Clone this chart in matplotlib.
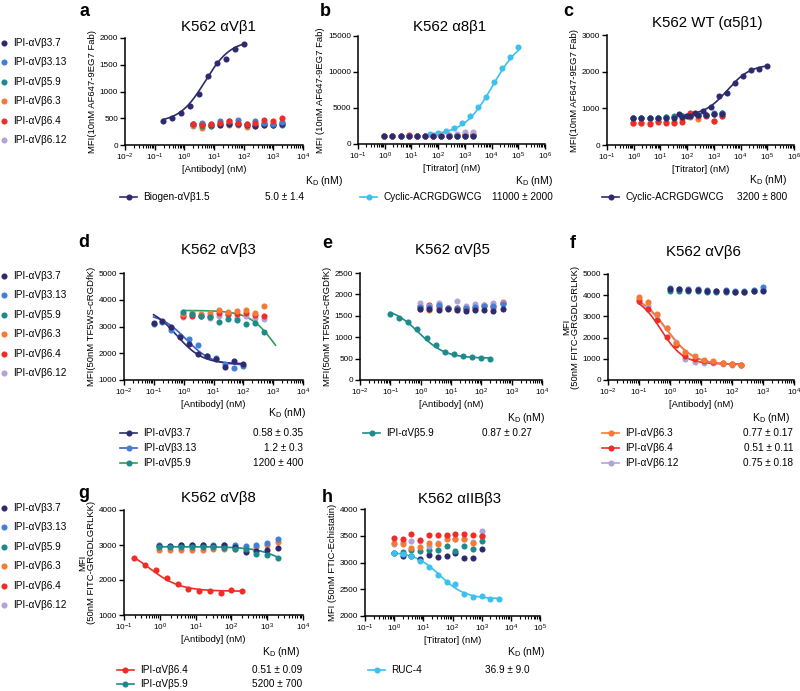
import numpy as np
import matplotlib
matplotlib.use('Agg')
import matplotlib.pyplot as plt
from matplotlib.lines import Line2D
from matplotlib.ticker import LogLocator, NullFormatter, FixedLocator

plt.rcParams['font.family'] = ['Liberation Sans', 'DejaVu Sans']
plt.rcParams['mathtext.fontset'] = 'custom'
plt.rcParams['mathtext.rm'] = 'Liberation Sans'
plt.rcParams['mathtext.it'] = 'Liberation Sans:italic'
plt.rcParams['mathtext.default'] = 'regular'

W, H = 800, 691

# ---------------- series names / colours ----------------
NAMES = ['IPI-αVβ3.7', 'IPI-αVβ3.13', 'IPI-αVβ5.9', 'IPI-αVβ6.3', 'IPI-αVβ6.4', 'IPI-αVβ6.12']
C_NAVY, C_BLUE, C_TEAL, C_ORANGE, C_RED, C_LAV = '#2d2b6e', '#4280d6', '#1d8b8b', '#f47a35', '#ee2d26', '#b3a4d8'
C_CYAN = '#3cc0ee'
C_GREEN = '#2f9e5e'
COLORS = [C_NAVY, C_BLUE, C_TEAL, C_ORANGE, C_RED, C_LAV]

# ---------------- panel a : K562 aVb1 ----------------
A_X_FIT = [0.195, 0.39, 0.78, 1.56, 3.125, 6.25, 12.5, 25, 50, 100]
A_BIOGEN = [455, 505, 590, 735, 945, 1290, 1540, 1610, 1795, 1880]
A_FIT = [420, 1960, 5.0, 1.0]          # start, end, mid, hill
A_X_CTRL = [1.95, 3.9, 7.8, 15.6, 31.25, 62.5, 125, 250, 500, 1000, 2000]
A_CTRL = [  # order of NAMES
    [385, 390, 380, 375, 390, 385, 375, 350, 380, 375, 390],
    [400, 420, 400, 450, 440, 460, 395, 440, 420, 400, 430],
    [370, 360, 360, 385, 400, 390, 370, 380, 400, 370, 380],
    [355, 310, 355, 370, 380, 375, 340, 350, 380, 370, 390],
    [400, 380, 390, 410, 450, 420, 400, 420, 470, 450, 500],
    [380, 390, 380, 400, 410, 400, 380, 400, 410, 400, 420],
]

# ---------------- panel b : K562 a8b1 ----------------
B_X_FIT = [48.8, 97.7, 195, 391, 781, 1562, 3125, 6250, 12500, 25000, 50000, 100000]
B_CYCLIC = [1350, 1570, 1850, 2270, 2880, 3890, 5180, 6570, 8650, 10600, 12100, 13500]
B_FIT = [1200, 15000, 11000, 0.8]
B_X_CTRL = [0.98, 1.95, 3.9, 7.8, 15.6, 31.25, 62.5, 125, 250, 500, 1000, 2000]
B_CTRL = [
    [1150, 1140, 1150, 1160, 1140, 1150, 1150, 1140, 1160, 1150, 1150, 1140],
    [1160, 1150, 1160, 1150, 1160, 1150, 1160, 1150, 1170, 1160, 1180, 1200],
    [1140, 1150, 1140, 1150, 1140, 1150, 1140, 1150, 1150, 1150, 1160, 1170],
    [1150, 1160, 1150, 1160, 1150, 1160, 1170, 1200, 1250, 1300, 1350, 1400],
    [1160, 1150, 1160, 1250, 1160, 1150, 1160, 1170, 1180, 1200, 1220, 1250],
    [1150, 1150, 1160, 1150, 1160, 1170, 1200, 1250, 1300, 1420, 1600, 1700],
]

# ---------------- panel c : K562 WT (a5b1) ----------------
C_X_FIT = [48.8, 97.7, 195, 391, 781, 1562, 3125, 6250, 12500, 25000, 50000, 100000]
C_CYCLIC = [840, 790, 860, 930, 1045, 1350, 1410, 1680, 1880, 2040, 2060, 2160]
C_FIT = [790, 2200, 3200, 1.0]
C_X_CTRL = [0.98, 1.95, 3.9, 7.8, 15.6, 31.25, 62.5, 125, 250, 500, 1000, 2000]
C_CTRL = [
    [730, 735, 735, 745, 750, 730, 770, 780, 830, 830, 850, 850],
    [740, 745, 740, 750, 760, 760, 790, 800, 820, 830, 860, 880],
    [735, 740, 740, 740, 760, 790, 780, 790, 820, 830, 840, 860],
    [610, 600, 590, 660, 640, 620, 700, 760, 720, 830, 650, 780],
    [600, 590, 580, 620, 610, 610, 640, 860, 780, 800, 660, 790],
    [730, 740, 735, 745, 750, 760, 780, 790, 810, 820, 840, 860],
]

# ---------------- panel d : K562 aVb3 ----------------
D_X_FIT = [0.098, 0.195, 0.39, 0.78, 1.56, 3.125, 6.25, 12.5, 25, 50, 100]
D_37 = [3120, 3200, 3000, 2620, 2340, 1960, 1880, 1780, 1500, 1720, 1600]
D_313 = [3100, 3150, 2870, 2650, 2540, 2300, 1900, 1830, 1600, 1460, 1530]
D_FIT_37 = [3750, 1600, 0.58, 1.0]
D_FIT_313 = [3500, 1550, 1.2, 1.0]
D_X_CTRL = [0.98, 1.95, 3.9, 7.8, 15.6, 31.25, 62.5, 125, 250, 500]
D_59 = [3560, 3460, 3400, 3340, 3160, 3270, 3250, 3080, 3120, 2810]
D_FIT_59 = [3600, 1000, 1200, 1.0]
D_63 = [3450, 3500, 3480, 3500, 3600, 3560, 3580, 3600, 3520, 3750]
D_64 = [3380, 3400, 3400, 3380, 3500, 3450, 3470, 3500, 3420, 3410]
D_612 = [3350, 3420, 3380, 3300, 3380, 3420, 3310, 3380, 3300, 3280]

# ---------------- panel e : K562 aVb5 ----------------
E_X_FIT = [0.098, 0.195, 0.39, 0.78, 1.56, 3.125, 6.25, 12.5, 25, 50, 100, 200]
E_59 = [1540, 1450, 1360, 1200, 990, 820, 660, 600, 550, 540, 520, 500]
E_FIT_59 = [1700, 510, 0.87, 1.0]
E_X_CTRL = [0.98, 1.95, 3.9, 7.8, 15.6, 31.25, 62.5, 125, 250, 500]
E_37 = [1660, 1650, 1630, 1650, 1640, 1610, 1630, 1630, 1620, 1650]
E_313 = [1700, 1700, 1760, 1680, 1690, 1680, 1700, 1720, 1730, 1780]
E_63 = [1650, 1640, 1680, 1690, 1660, 1660, 1670, 1720, 1680, 1820]
E_64 = [1740, 1750, 1720, 1680, 1690, 1680, 1700, 1750, 1740, 1800]
E_612 = [1790, 1730, 1800, 1690, 1840, 1720, 1780, 1760, 1810, 1800]

# ---------------- panel f : K562 aVb6 ----------------
F_X_FIT = [0.098, 0.195, 0.39, 0.78, 1.56, 3.125, 6.25, 12.5, 25, 50, 100, 200]
F_63 = [3920, 3680, 3120, 2450, 1740, 1320, 1150, 950, 900, 800, 750, 700]
F_64 = [3720, 3330, 2820, 2050, 1650, 1150, 1000, 880, 850, 780, 760, 720]
F_612 = [3800, 3500, 3050, 2450, 1800, 980, 850, 800, 780, 740, 730, 720]
F_FIT_63 = [4100, 720, 0.77, 1.0]
F_FIT_64 = [4000, 750, 0.51, 1.2]
F_FIT_612 = [4050, 730, 0.75, 1.0]
F_X_CTRL = [0.98, 1.95, 3.9, 7.8, 15.6, 31.25, 62.5, 125, 250, 500, 1000]
F_37 = [4300, 4290, 4250, 4260, 4200, 4190, 4200, 4150, 4160, 4220, 4200]
F_313 = [4320, 4300, 4280, 4300, 4240, 4220, 4250, 4180, 4200, 4250, 4400]
F_59 = [4200, 4220, 4180, 4180, 4160, 4150, 4150, 4130, 4150, 4200, 4250]

# ---------------- panel g : K562 aVb8 ----------------
G_X_FIT = [0.195, 0.39, 0.78, 1.56, 3.125, 6.25, 12.5, 25, 50, 100, 200]
G_64 = [2620, 2440, 2300, 2060, 1880, 1750, 1690, 1690, 1620, 1710, 1700]
G_FIT_64 = [3000, 1680, 0.51, 1.0]
G_X_CTRL = [0.98, 1.95, 3.9, 7.8, 15.6, 31.25, 62.5, 125, 250, 500, 1000, 2000]
G_59 = [2950, 2950, 2930, 2940, 2930, 2930, 2920, 2900, 2880, 2730, 2710, 2630]
G_FIT_59 = [2950, 1850, 5200, 1.0]
G_37 = [2980, 2960, 3000, 3000, 3000, 2980, 3000, 2950, 2800, 2830, 2860, 2920]
G_313 = [2990, 2980, 3010, 3010, 3010, 3000, 3010, 3010, 2970, 3010, 3050, 3160]
G_63 = [2870, 2850, 2860, 2850, 2860, 2880, 2900, 2880, 2900, 2950, 3000, 3100]

# ---------------- panel h : K562 aIIBb3 ----------------
H_X_FIT = [0.98, 1.95, 3.9, 7.8, 15.6, 31.25, 62.5, 125, 250, 500, 1000, 2000, 4000]
H_RUC = [3170, 3160, 3120, 3020, 2910, 2760, 2640, 2600, 2410, 2360, 2380, 2310, 2320]
H_FIT = [3200, 2320, 36.9, 1.0]
H_X_CTRL = [0.98, 1.95, 3.9, 7.8, 15.6, 31.25, 62.5, 125, 250, 500, 1000]
H_37 = [3170, 3130, 3120, 3060, 3140, 3100, 3130, 3170, 3080, 3090, 3260]
H_59 = [3170, 3190, 3240, 3210, 3230, 3240, 3300, 3220, 3310, 3260, 3400]
H_63 = [3360, 3350, 3270, 3290, 3370, 3340, 3430, 3430, 3430, 3360, 3500]
H_64 = [3460, 3430, 3530, 3420, 3520, 3510, 3520, 3530, 3540, 3520, 3500]
H_612 = [3340, 3390, 3400, 3400, 3300, 3360, 3500, 3430, 3440, 3380, 3590]

# ---------------- helpers ----------------
MS = 4.4
TICK_FS = 5.9
LAB_FS = 6.8
LW = 1.2


def fx(px):
    return px / W


def fy(py):
    return 1 - py / H


def make_ax(fig, l, t, r, b):
    return fig.add_axes([fx(l), fy(b), (r - l) / W, (b - t) / H])


def logistic(x, p):
    start, end, mid, hill = p
    return end + (start - end) / (1 + (x / mid) ** hill)


def fit_line(ax, x0, x1, p, color, lw=LW):
    xs = np.logspace(np.log10(x0), np.log10(x1), 200)
    ax.plot(xs, logistic(xs, p), color=color, lw=lw, zorder=3)


def pts(ax, x, y, color, z=4):
    ax.plot(x, y, 'o', color=color, ms=MS, mec='none', zorder=z, clip_on=False)


def style(ax, xlim, ylim, yticks, xlabel, ylabel):
    ax.set_xscale('log')
    ax.set_xlim(*xlim)
    ax.set_ylim(*ylim)
    ax.xaxis.set_major_locator(LogLocator(base=10, numticks=30))
    ax.xaxis.set_minor_locator(LogLocator(base=10, subs=np.arange(2, 10) * 1.0, numticks=30))
    ax.xaxis.set_minor_formatter(NullFormatter())
    ax.yaxis.set_major_locator(FixedLocator(yticks))
    ax.set_yticklabels([str(v) for v in yticks])
    for s in ['top', 'right']:
        ax.spines[s].set_visible(False)
    for s in ['left', 'bottom']:
        ax.spines[s].set_linewidth(1.1)
    ax.tick_params(axis='both', which='major', length=3.5, width=1.0, labelsize=TICK_FS, pad=1.5)
    ax.tick_params(axis='x', which='minor', length=2, width=0.8)
    ax.set_xlabel(xlabel, fontsize=LAB_FS, labelpad=1.5)
    ax.set_ylabel(ylabel, fontsize=LAB_FS, labelpad=2, linespacing=1.0)


fig = plt.figure(figsize=(8, 6.91), dpi=100)


def text(px, py, s, **kw):
    fig.text(fx(px), fy(py), s, **kw)


def leg_row(x0, y, color, label, value, xv, lcolor=None):
    lc = lcolor or color
    fig.add_artist(Line2D([fx(x0), fx(x0 + 17)], [fy(y), fy(y)], color=lc, lw=LW,
                          transform=fig.transFigure))
    fig.add_artist(Line2D([fx(x0 + 8.5)], [fy(y)], marker='o', color=color, ms=MS, mec='none',
                          transform=fig.transFigure))
    text(x0 + 23, y, label, fontsize=7.2, va='center', ha='left')
    text(xv, y, value, fontsize=7.2, va='center', ha='right')


def kd_header(xr, y):
    text(xr, y, 'K$_D$ (nM)', fontsize=7.5, va='center', ha='right')


def side_legend(y0):
    for i, (n, c) in enumerate(zip(NAMES, COLORS)):
        y = y0 + i * 19.4
        fig.add_artist(Line2D([fx(4)], [fy(y)], marker='o', color=c, ms=MS, mec='none',
                              transform=fig.transFigure))
        text(13, y, n, fontsize=7.2, va='center', ha='left')


TITLE_FS = 10.8
LET_FS = 13

# ---------------- panel a ----------------
ax = make_ax(fig, 125, 38, 303, 145)
for i in [3, 2, 5, 0, 1, 4]:
    pts(ax, A_X_CTRL, A_CTRL[i], COLORS[i])
fit_line(ax, A_X_FIT[0], A_X_FIT[-1], A_FIT, C_NAVY)
pts(ax, A_X_FIT, A_BIOGEN, C_NAVY, z=5)
style(ax, (1e-2, 1e4), (0, 2000), [0, 500, 1000, 1500, 2000], '[Antibody] (nM)', 'MFI(10nM AF647-9EG7 Fab)')
text(218, 27, 'K562 αVβ1', fontsize=TITLE_FS, ha='center', va='center')
text(84, 12, 'a', fontsize=LET_FS, fontweight='bold', ha='center', va='center')
kd_header(343, 181)
leg_row(120, 197, C_NAVY, 'Biogen-αVβ1.5', '5.0 ± 1.4', 304)

# ---------------- panel b ----------------
ax = make_ax(fig, 358, 36, 545, 144)
fit_line(ax, B_X_FIT[0], B_X_FIT[-1], B_FIT, C_CYAN)
pts(ax, B_X_FIT, B_CYCLIC, C_CYAN)
for i in [1, 2, 3, 4, 5, 0]:
    pts(ax, B_X_CTRL, B_CTRL[i], COLORS[i])
style(ax, (1e-1, 1e6), (0, 15000), [0, 5000, 10000, 15000], '[Titrator] (nM)', 'MFI (10nM AF647-9EG7 Fab)')
text(450, 27, 'K562 α8β1', fontsize=TITLE_FS, ha='center', va='center')
text(325, 12, 'b', fontsize=LET_FS, fontweight='bold', ha='center', va='center')
kd_header(553, 181)
leg_row(360, 197, C_CYAN, 'Cyclic-ACRGDGWCG', '11000 ± 2000', 553)

# ---------------- panel c ----------------
ax = make_ax(fig, 607, 35, 794, 145)
for i in [5, 1, 2, 3, 4, 0]:
    pts(ax, C_X_CTRL, C_CTRL[i], COLORS[i])
fit_line(ax, C_X_FIT[0], C_X_FIT[-1], C_FIT, C_NAVY)
pts(ax, C_X_FIT, C_CYCLIC, C_NAVY, z=5)
style(ax, (1e-1, 1e6), (0, 3000), [0, 1000, 2000, 3000], '[Titrator] (nM)', 'MFI(10nM AF647-9EG7 Fab)')
text(707, 23, 'K562 WT (α5β1)', fontsize=TITLE_FS, ha='center', va='center')
text(568, 11, 'c', fontsize=LET_FS, fontweight='bold', ha='center', va='center')
kd_header(787, 180)
leg_row(602, 197, C_NAVY, 'Cyclic-ACRGDGWCG', '3200 ± 800', 787)

# ---------------- panel d ----------------
ax = make_ax(fig, 124, 273, 303, 380)
pts(ax, D_X_CTRL, D_612, C_LAV)
pts(ax, D_X_CTRL, D_64, C_RED)
pts(ax, D_X_CTRL, D_63, C_ORANGE)
fit_line(ax, D_X_CTRL[0], 1200, D_FIT_59, C_GREEN)
pts(ax, D_X_CTRL, D_59, C_TEAL, z=5)
fit_line(ax, D_X_FIT[0], D_X_FIT[-1], D_FIT_313, '#3f5cc4')
fit_line(ax, D_X_FIT[0], D_X_FIT[-1], D_FIT_37, C_NAVY)
pts(ax, D_X_FIT, D_313, C_BLUE, z=5)
pts(ax, D_X_FIT, D_37, C_NAVY, z=5)
style(ax, (1e-2, 1e4), (1000, 5000), [1000, 2000, 3000, 4000, 5000], '[Antibody] (nM)', 'MFI(50nM TF5WS-cRGDfK)')
text(218, 250, 'K562 αVβ3', fontsize=TITLE_FS, ha='center', va='center')
text(84, 242, 'd', fontsize=LET_FS, fontweight='bold', ha='center', va='center')
kd_header(306, 413)
leg_row(120, 433, C_NAVY, 'IPI-αVβ3.7', '0.58 ± 0.35', 303)
leg_row(120, 448, C_BLUE, 'IPI-αVβ3.13', '1.2 ± 0.3', 303, '#3f5cc4')
leg_row(120, 463, C_TEAL, 'IPI-αVβ5.9', '1200 ± 400', 303, C_GREEN)

# ---------------- panel e ----------------
ax = make_ax(fig, 360, 273, 542, 380)
for y, c in [(E_63, C_ORANGE), (E_64, C_RED), (E_612, C_LAV), (E_313, C_BLUE), (E_37, C_NAVY)]:
    pts(ax, E_X_CTRL, y, c)
fit_line(ax, E_X_FIT[0], E_X_FIT[-1], E_FIT_59, C_TEAL)
pts(ax, E_X_FIT, E_59, C_TEAL, z=5)
style(ax, (1e-2, 1e4), (0, 2500), [0, 500, 1000, 1500, 2000, 2500], '[Antibody] (nM)', 'MFI(50nM TF5WS-cRGDfK)')
text(452, 250, 'K562 αVβ5', fontsize=TITLE_FS, ha='center', va='center')
text(327, 243, 'e', fontsize=LET_FS, fontweight='bold', ha='center', va='center')
kd_header(545, 418)
leg_row(363, 433, C_TEAL, 'IPI-αVβ5.9', '0.87 ± 0.27', 532)

# ---------------- panel f ----------------
ax = make_ax(fig, 608, 274, 794, 380)
pts(ax, F_X_CTRL, F_59, C_TEAL)
pts(ax, F_X_CTRL, F_313, C_BLUE)
pts(ax, F_X_CTRL, F_37, C_NAVY)
fit_line(ax, F_X_FIT[0], F_X_FIT[-1], F_FIT_612, C_LAV)
fit_line(ax, F_X_FIT[0], F_X_FIT[-1], F_FIT_64, C_RED)
fit_line(ax, F_X_FIT[0], F_X_FIT[-1], F_FIT_63, C_ORANGE)
pts(ax, F_X_FIT, F_612, C_LAV, z=5)
pts(ax, F_X_FIT, F_64, C_RED, z=5)
pts(ax, F_X_FIT, F_63, C_ORANGE, z=5)
style(ax, (1e-2, 1e4), (0, 5000), [0, 1000, 2000, 3000, 4000, 5000], '[Antibody] (nM)', 'MFI\n(50nM FITC-GRGDLGRLKK)')
text(703, 252, 'K562 αVβ6', fontsize=TITLE_FS, ha='center', va='center')
text(573, 243, 'f', fontsize=LET_FS, fontweight='bold', ha='center', va='center')
kd_header(790, 418)
leg_row(602, 433, C_ORANGE, 'IPI-αVβ6.3', '0.77 ± 0.17', 793)
leg_row(602, 448, C_RED, 'IPI-αVβ6.4', '0.51 ± 0.11', 793)
leg_row(602, 463, C_LAV, 'IPI-αVβ6.12', '0.75 ± 0.18', 793)

# ---------------- panel g ----------------
ax = make_ax(fig, 124, 510, 303, 615)
pts(ax, G_X_CTRL, G_63, C_ORANGE)
pts(ax, G_X_CTRL, G_313, C_BLUE)
pts(ax, G_X_CTRL, G_37, C_NAVY)
fit_line(ax, G_X_CTRL[0], G_X_CTRL[-1], G_FIT_59, C_TEAL)
pts(ax, G_X_CTRL, G_59, C_TEAL, z=5)
fit_line(ax, G_X_FIT[0], G_X_FIT[-1], G_FIT_64, C_RED)
pts(ax, G_X_FIT, G_64, C_RED, z=5)
style(ax, (1e-1, 1e4), (1000, 4000), [1000, 2000, 3000, 4000], '[Antibody] (nM)', 'MFI\n(50nM FITC-GRGDLGRLKK)')
text(218, 498, 'K562 αVβ8', fontsize=TITLE_FS, ha='center', va='center')
text(84, 494, 'g', fontsize=LET_FS, fontweight='bold', ha='center', va='center')
kd_header(300, 652)
leg_row(117, 670, C_RED, 'IPI-αVβ6.4', '0.51 ± 0.09', 302)
leg_row(117, 684, C_TEAL, 'IPI-αVβ5.9', '5200 ± 700', 302)

# ---------------- panel h ----------------
ax = make_ax(fig, 365, 509, 540, 616)
for y, c in [(H_37, C_NAVY), (H_59, C_TEAL), (H_612, C_LAV), (H_63, C_ORANGE), (H_64, C_RED)]:
    pts(ax, H_X_CTRL, y, c)
fit_line(ax, H_X_FIT[0], H_X_FIT[-1], H_FIT, C_CYAN)
pts(ax, H_X_FIT, H_RUC, C_CYAN, z=5)
style(ax, (1e-1, 1e5), (2000, 4000), [2000, 2500, 3000, 3500, 4000], '[Titrator] (nM)', 'MFI (50nM FTIC-Echistatin)')
text(460, 499, 'K562 αIIBβ3', fontsize=TITLE_FS, ha='center', va='center')
text(327, 498, 'h', fontsize=LET_FS, fontweight='bold', ha='center', va='center')
kd_header(545, 652)
leg_row(368, 670, C_CYAN, 'RUC-4', '36.9 ± 9.0', 530)

# ---------------- side legends ----------------
side_legend(43)
side_legend(276)
side_legend(508)

fig.savefig('out.png', dpi=100)
